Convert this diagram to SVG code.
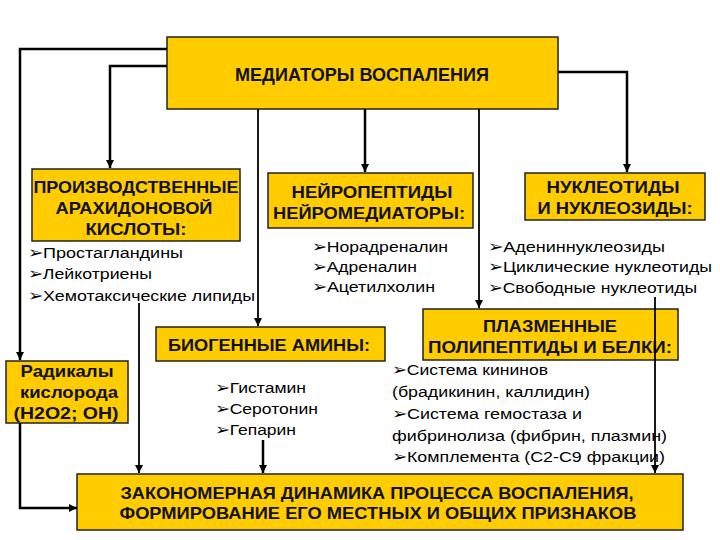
<svg xmlns="http://www.w3.org/2000/svg" width="720" height="540" viewBox="0 0 720 540">
<defs>
<marker id="ah" viewBox="0 0 10 10" refX="10" refY="5" markerWidth="8" markerHeight="8" markerUnits="userSpaceOnUse" orient="auto">
<path d="M0,0 L10,5 L0,10 z" fill="#000"/>
</marker>
<style>
.box{fill:#FFCC00;stroke:#222;stroke-width:1.5}
.h{font-family:"Liberation Sans",Arial,sans-serif;font-weight:bold;font-size:17px;fill:#111}
.t{font-family:"Liberation Sans",Arial,sans-serif;font-size:15.5px;fill:#000}
.c{fill:none;stroke:#000;stroke-width:2.5}
.c2{fill:none;stroke:#000;stroke-width:1.8}
</style>
</defs>
<rect width="720" height="540" fill="#fff"/>

<g id="top">
<rect class="box" x="167" y="37" width="391" height="72"/>
<text class="h" x="362" y="81" text-anchor="middle" textLength="254" lengthAdjust="spacingAndGlyphs" style="font-size:17.5px">МЕДИАТОРЫ ВОСПАЛЕНИЯ</text>
</g>

<g id="arachidonic">
<rect class="box" x="32" y="169" width="208" height="72"/>
<text class="h" x="136" y="193" text-anchor="middle" textLength="205" lengthAdjust="spacingAndGlyphs">ПРОИЗВОДСТВЕННЫЕ</text>
<text class="h" x="134" y="214" text-anchor="middle" textLength="157" lengthAdjust="spacingAndGlyphs">АРАХИДОНОВОЙ</text>
<text class="h" x="136" y="235" text-anchor="middle" textLength="101" lengthAdjust="spacingAndGlyphs">КИСЛОТЫ:</text>
<text class="t" x="28" y="258" textLength="155" lengthAdjust="spacingAndGlyphs">➢Простагландины</text>
<text class="t" x="28" y="279" textLength="124" lengthAdjust="spacingAndGlyphs">➢Лейкотриены</text>
<text class="t" x="28" y="301" textLength="227" lengthAdjust="spacingAndGlyphs">➢Хемотаксические липиды</text>
</g>

<g id="neuro">
<rect class="box" x="268" y="173" width="205" height="55"/>
<text class="h" x="372" y="198" text-anchor="middle" textLength="161" lengthAdjust="spacingAndGlyphs">НЕЙРОПЕПТИДЫ</text>
<text class="h" x="369" y="219" text-anchor="middle" textLength="192" lengthAdjust="spacingAndGlyphs">НЕЙРОМЕДИАТОРЫ:</text>
<text class="t" x="312" y="252" textLength="136" lengthAdjust="spacingAndGlyphs">➢Норадреналин</text>
<text class="t" x="312" y="272" textLength="105" lengthAdjust="spacingAndGlyphs">➢Адреналин</text>
<text class="t" x="312" y="292" textLength="123" lengthAdjust="spacingAndGlyphs">➢Ацетилхолин</text>
</g>

<g id="nucleo">
<rect class="box" x="525" y="173" width="180" height="47"/>
<text class="h" x="613" y="193" text-anchor="middle" textLength="133" lengthAdjust="spacingAndGlyphs">НУКЛЕОТИДЫ</text>
<text class="h" x="615" y="214" text-anchor="middle" textLength="155" lengthAdjust="spacingAndGlyphs">И НУКЛЕОЗИДЫ:</text>
<text class="t" x="488" y="252" textLength="177" lengthAdjust="spacingAndGlyphs">➢Адениннуклеозиды</text>
<text class="t" x="488" y="272" textLength="224" lengthAdjust="spacingAndGlyphs">➢Циклические нуклеотиды</text>
<text class="t" x="488" y="293" textLength="209" lengthAdjust="spacingAndGlyphs">➢Свободные нуклеотиды</text>
</g>

<g id="biogenic">
<rect class="box" x="156" y="327" width="229" height="34"/>
<text class="h" x="269" y="351" text-anchor="middle" textLength="202" lengthAdjust="spacingAndGlyphs">БИОГЕННЫЕ АМИНЫ:</text>
<text class="t" x="215" y="393" textLength="91" lengthAdjust="spacingAndGlyphs">➢Гистамин</text>
<text class="t" x="215" y="414" textLength="103" lengthAdjust="spacingAndGlyphs">➢Серотонин</text>
<text class="t" x="215" y="435" textLength="81" lengthAdjust="spacingAndGlyphs">➢Гепарин</text>
</g>

<g id="radicals">
<rect class="box" x="6" y="361" width="122" height="62"/>
<text class="h" x="67" y="377" text-anchor="middle" textLength="93" lengthAdjust="spacingAndGlyphs">Радикалы</text>
<text class="h" x="69" y="398" text-anchor="middle" textLength="98" lengthAdjust="spacingAndGlyphs">кислорода</text>
<text class="h" x="66" y="419" text-anchor="middle" textLength="105" lengthAdjust="spacingAndGlyphs">(Н2О2; ОН)</text>
</g>

<g id="plasma">
<rect class="box" x="423" y="309" width="255" height="51"/>
<text class="h" x="550" y="332" text-anchor="middle" textLength="134" lengthAdjust="spacingAndGlyphs">ПЛАЗМЕННЫЕ</text>
<text class="h" x="550" y="353" text-anchor="middle" textLength="244" lengthAdjust="spacingAndGlyphs">ПОЛИПЕПТИДЫ И БЕЛКИ:</text>
<text class="t" x="392" y="375" textLength="156" lengthAdjust="spacingAndGlyphs">➢Система кининов</text>
<text class="t" x="392" y="397" textLength="198" lengthAdjust="spacingAndGlyphs">(брадикинин, каллидин)</text>
<text class="t" x="392" y="419" textLength="190" lengthAdjust="spacingAndGlyphs">➢Система гемостаза и</text>
<text class="t" x="392" y="441" textLength="275" lengthAdjust="spacingAndGlyphs">фибринолиза (фибрин, плазмин)</text>
<text class="t" x="392" y="462" textLength="273" lengthAdjust="spacingAndGlyphs">➢Комплемента (С2-С9 фракции)</text>
</g>

<g id="bottom">
<rect class="box" x="77" y="474" width="606" height="56"/>
<text class="h" x="377" y="499" text-anchor="middle" textLength="513" lengthAdjust="spacingAndGlyphs">ЗАКОНОМЕРНАЯ ДИНАМИКА ПРОЦЕССА ВОСПАЛЕНИЯ,</text>
<text class="h" x="378" y="519" text-anchor="middle" textLength="517" lengthAdjust="spacingAndGlyphs">ФОРМИРОВАНИЕ ЕГО МЕСТНЫХ И ОБЩИХ ПРИЗНАКОВ</text>
</g>

<g id="connectors">
<path class="c" d="M167,49 H20 V360" marker-end="url(#ah)"/>
<path class="c" d="M20,423 V508 H77" marker-end="url(#ah)"/>
<path class="c" d="M167,66 H110 V168" marker-end="url(#ah)"/>
<path class="c2" d="M258,109 V326" marker-end="url(#ah)"/>
<path class="c" d="M365,109 V172" marker-end="url(#ah)"/>
<path class="c2" d="M479,109 V308" marker-end="url(#ah)"/>
<path class="c" d="M558,72 H627 V172" marker-end="url(#ah)"/>
<path class="c2" d="M139,303 V473" marker-end="url(#ah)"/>
<path class="c" d="M263,440 V473" marker-end="url(#ah)"/>
<path class="c2" d="M655,297 V473" marker-end="url(#ah)"/>
</g>
</svg>
